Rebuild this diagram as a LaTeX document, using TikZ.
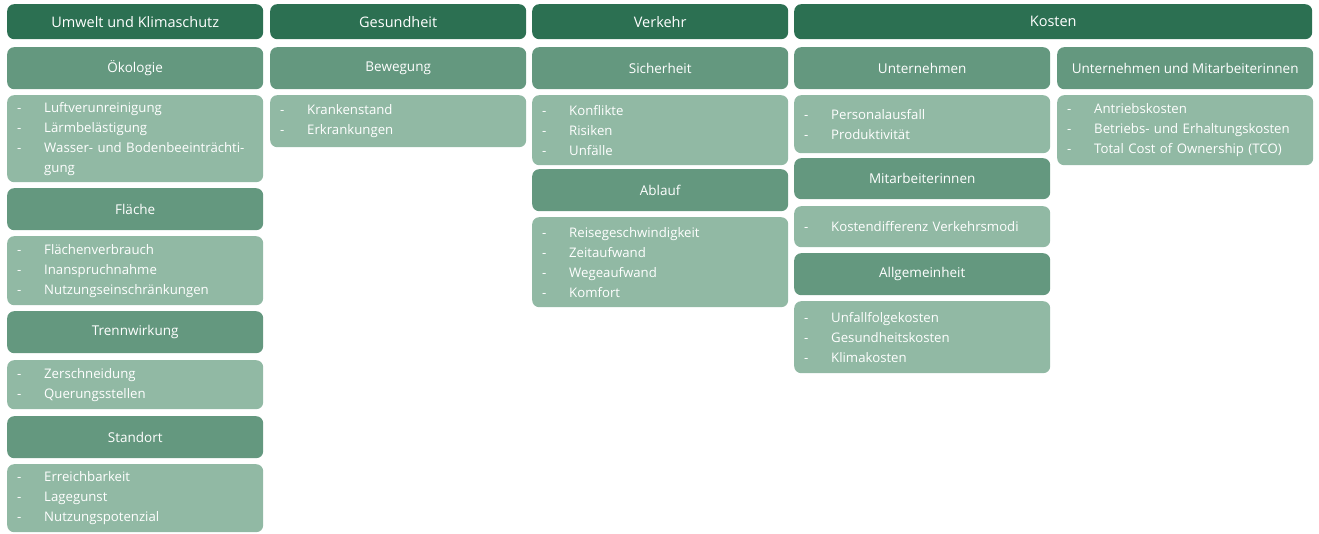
\documentclass[tikz,border=0pt]{standalone}
\usepackage{fontspec}
\setmainfont{Open Sans}
\usepackage{tikz}
\definecolor{headgreen}{RGB}{44,112,82}
\definecolor{topicgreen}{RGB}{100,152,127}
\definecolor{listgreen}{RGB}{145,185,164}
\newcommand{\dashitem}[1]{\makebox[27pt][l]{-}\mbox{#1}}

\begin{document}
\begin{tikzpicture}[x=1pt, y=-1pt,
    head/.style={rectangle, rounded corners=7pt, fill=headgreen, text=white, anchor=north west, minimum width=256pt, minimum height=35pt, inner sep=0pt, font=\fontsize{14.5}{18}\selectfont},
    topic/.style={rectangle, rounded corners=7pt, fill=topicgreen, text=white, anchor=north west, minimum width=256pt, minimum height=42pt, inner sep=0pt, font=\fontsize{13.5}{18}\selectfont},
    items/.style={rectangle, rounded corners=7pt, fill=listgreen, text=white, anchor=north west, text width=236pt, inner xsep=10pt, inner ysep=0pt, align=left, font=\fontsize{13.2}{20}\selectfont}
]
    \useasboundingbox (0,0) rectangle (1319,533);

    % Headers
    \node[head] (umwelt) at (7,4) {Umwelt und Klimaschutz};
    \node[head] (gesund) at (270,4) {Gesundheit};
    \node[head] (verkehr) at (532,4) {Verkehr};
    \node[head, minimum width=518pt] (kosten) at (794,4) {Kosten};

    % Umwelt und Klimaschutz
    \node[topic] (oeko) at (7,47) {Ökologie};
    \node[items, minimum height=87pt] (oekolist) at (7,95) {\dashitem{Luftverunreinigung}\\\dashitem{Lärmbelästigung}\\\dashitem{Wasser- und Bodenbeeinträchti-}\\\hspace*{27pt}gung};
    \node[topic] (flaeche) at (7,188) {Fläche};
    \node[items, minimum height=69pt] (flaechelist) at (7,236) {\dashitem{Flächenverbrauch}\\\dashitem{Inanspruchnahme}\\\dashitem{Nutzungseinschränkungen}};
    \node[topic] (trenn) at (7,311) {Trennwirkung};
    \node[items, minimum height=49pt] (trennlist) at (7,360) {\dashitem{Zerschneidung}\\\dashitem{Querungsstellen}};
    \node[topic] (standort) at (7,416) {Standort};
    \node[items, minimum height=68pt] (standortlist) at (7,464) {\dashitem{Erreichbarkeit}\\\dashitem{Lagegunst}\\\dashitem{Nutzungspotenzial}};

    % Gesundheit
    \node[topic] (bewegung) at (270,47) {Bewegung};
    \node[items, minimum height=52pt] (bewegunglist) at (270,95) {\dashitem{Krankenstand}\\\dashitem{Erkrankungen}};

    % Verkehr
    \node[topic] (sicher) at (532,47) {Sicherheit};
    \node[items, minimum height=70pt] (sicherlist) at (532,95) {\dashitem{Konflikte}\\\dashitem{Risiken}\\\dashitem{Unfälle}};
    \node[topic] (ablauf) at (532,169) {Ablauf};
    \node[items, minimum height=90pt] (ablauflist) at (532,217) {\dashitem{Reisegeschwindigkeit}\\\dashitem{Zeitaufwand}\\\dashitem{Wegeaufwand}\\\dashitem{Komfort}};

    % Kosten
    \node[topic] (untern) at (794,47) {Unternehmen};
    \node[items, minimum height=58pt] (unternlist) at (794,95) {\dashitem{Personalausfall}\\\dashitem{Produktivität}};
    \node[topic, minimum height=41pt] (mitarb) at (794,158) {Mitarbeiterinnen};
    \node[items, minimum height=41pt] (mitarblist) at (794,206) {\dashitem{Kostendifferenz Verkehrsmodi}};
    \node[topic] (allg) at (794,253) {Allgemeinheit};
    \node[items, minimum height=72pt] (allglist) at (794,301) {\dashitem{Unfallfolgekosten}\\\dashitem{Gesundheitskosten}\\\dashitem{Klimakosten}};
    \node[topic] (untmit) at (1057,47) {Unternehmen und Mitarbeiterinnen};
    \node[items, minimum height=70pt] (untmitlist) at (1057,95) {\dashitem{Antriebskosten}\\\dashitem{Betriebs- und Erhaltungskosten}\\\dashitem{Total Cost of Ownership (TCO)}};
\end{tikzpicture}
\end{document}
